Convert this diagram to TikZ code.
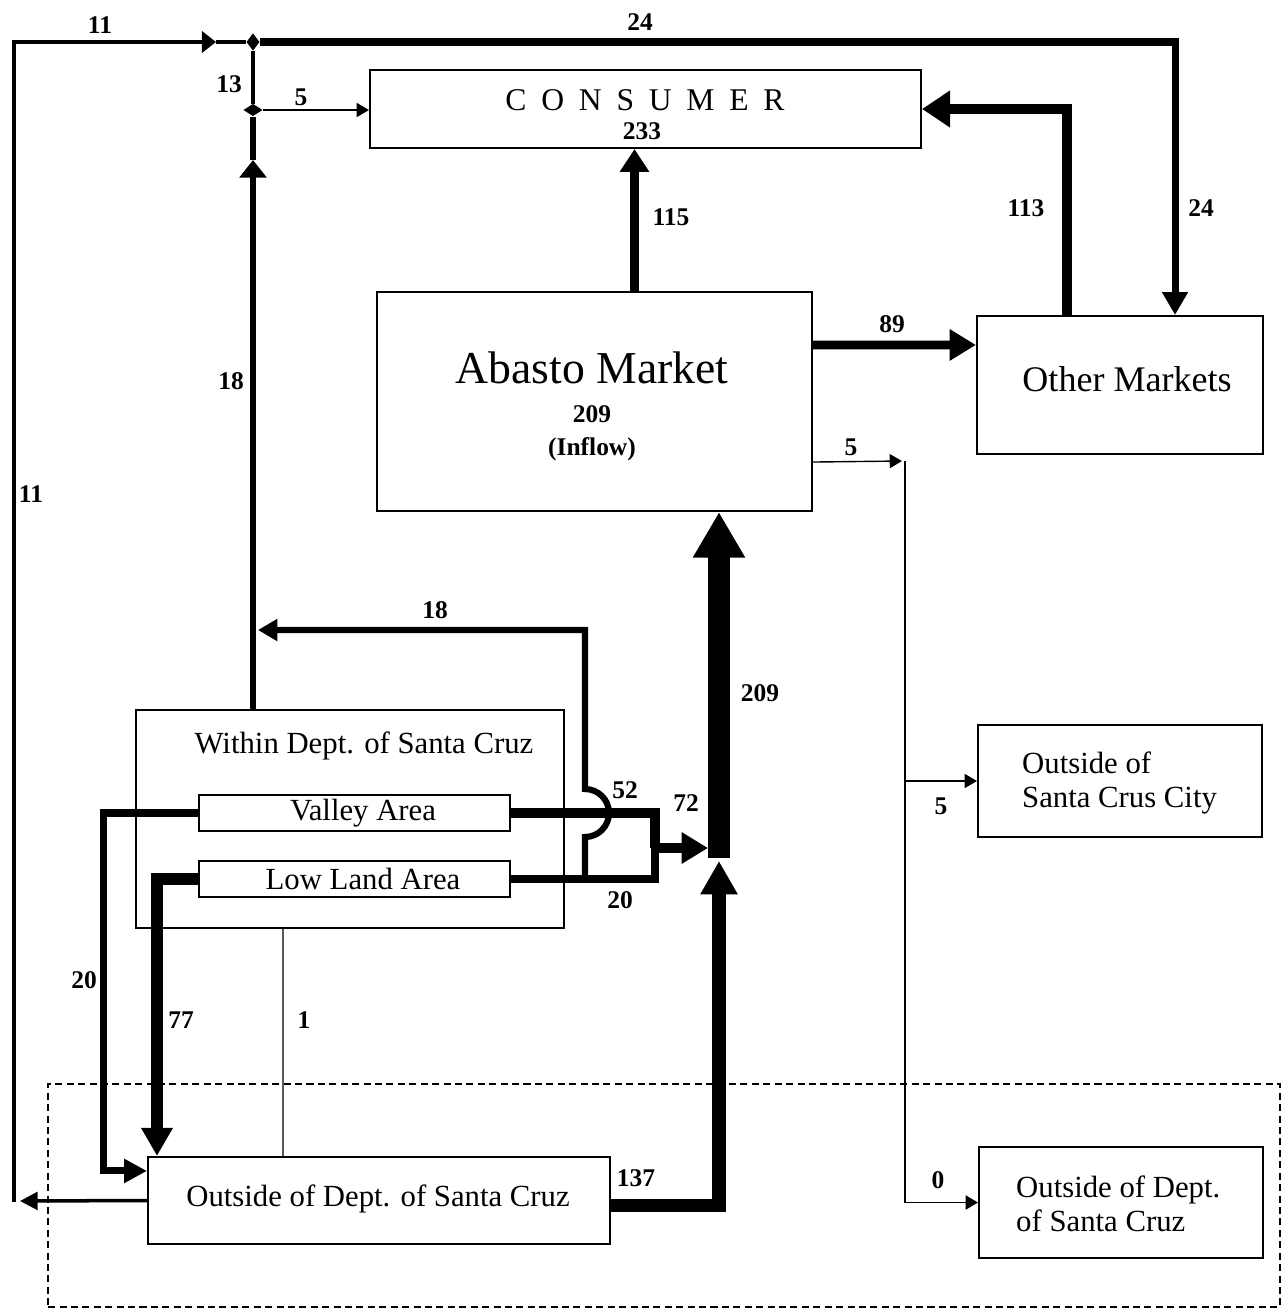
\documentclass[tikz,border=0pt]{standalone}
\usepackage{fontspec}
\setmainfont{Liberation Serif}
\usetikzlibrary{arrows.meta,calc,shapes.geometric}
\begin{document}
\begin{tikzpicture}[x=0.02cm, y=-0.02cm,
    every node/.style={font=\fontsize{17.5}{19}\selectfont},
    box/.style={draw, line width=1.2pt, inner sep=0pt},
    num/.style={font=\fontsize{14.5}{16}\selectfont\bfseries},
    junction/.style={diamond, fill, draw=none, inner sep=0pt},
    head/.style args={#1/#2}{-{Triangle[length=#1,width=#2]}},
    flow/.style={line width=#1}]
  \useasboundingbox (0,0) rectangle (1283,1312);

  % boxes
  \node[box, minimum width=11.02cm, minimum height=1.56cm] (consumer) at (645.5,109) {};
  \node[box, minimum width=8.70cm, minimum height=4.38cm] (abasto) at (594.5,401.5) {};
  \node[box, minimum width=5.72cm, minimum height=2.76cm] (other) at (1120,385) {};
  \node[box, minimum width=5.68cm, minimum height=2.24cm] (city) at (1120,781) {};
  \node[box, minimum width=5.68cm, minimum height=2.22cm] (outright) at (1121,1202.5) {};
  \node[box, minimum width=8.56cm, minimum height=4.36cm] (within) at (350,819) {};
  \node[box, minimum width=6.22cm, minimum height=0.72cm] (valley) at (354.5,813) {};
  \node[box, minimum width=6.22cm, minimum height=0.72cm] (lowland) at (354.5,879) {};
  \node[box, minimum width=9.24cm, minimum height=1.74cm] (outleft) at (379,1200.5) {};
  \node[draw, line width=1.3pt, dash pattern=on 4pt off 2.5pt, inner sep=0pt,
        minimum width=24.64cm, minimum height=4.46cm] (region) at (664,1195.5) {};

  % texts
  \node (consumertxt) at (645,100) {\fontsize{18}{20}\selectfont C\hspace{8.4pt}O\hspace{8.4pt}N\hspace{8.4pt}S\hspace{8.4pt}U\hspace{8.4pt}M\hspace{8.4pt}E\hspace{8.4pt}R};
  \node[num] (consumernum) at (642,131) {233};
  \node (abastotxt) at (592,368) {\fontsize{26}{28}\selectfont Abasto Market};
  \node[num] (abastonum) at (592,414) {209};
  \node[num] (abastoin) at (592,449) {(Inflow)};
  \node (othertxt) at (1127,379) {\fontsize{20.5}{22}\selectfont Other Markets};
  \node[align=left, anchor=west] (citytxt) at (1016,783) {Outside of\\Santa Crus City};
  \node[align=left, anchor=west] (outrighttxt) at (1010,1204) {Outside of Dept.\\of Santa Cruz};
  \node (withintxt) at (364,746) {Within Dept. of Santa Cruz};
  \node (valleytxt) at (363,813) {Valley Area};
  \node (lowlandtxt) at (363,879) {Low Land Area};
  \node (outlefttxt) at (378,1199) {Outside of Dept. of Santa Cruz};

  % junctions on the left column
  \node[junction, minimum width=7.5pt, minimum height=10pt] (jt) at (253,42) {};
  \node[junction, minimum width=11pt, minimum height=7pt] (jm) at (253,110) {};

  % 11 round the left side
  \coordinate (lb) at (14,1201);
  \coordinate (lt) at (14,42);
  \coordinate (ma) at (216,42);
  \draw[flow=2pt, head=10pt/10pt] (outleft.west) -- ($(lb)+(6,0)$);
  \draw[flow=2.8pt, head=8pt/12pt] ($(lb)+(0,1)$) -- (lt) -- (ma);
  \draw[flow=2.8pt] (ma) -- (jt);

  % 24 along the top
  \draw[flow=4pt, head=13pt/14pt] (jt) -| ($(other.north east)+(-89,0)$);

  % 18 and 13 up the column, 5 to the consumer
  \coordinate (mb) at (253,160);
  \draw[flow=3.2pt, head=10pt/15pt] (within.north -| jt) -- (mb);
  \draw[flow=3.2pt] (mb) -- (jm);
  \draw[flow=2.5pt] (jm) -- (jt);
  \draw[flow=0.8pt, head=7pt/8pt] (jm) -- (jm -| consumer.west);

  % abasto market outflows
  \draw[flow=5.5pt, head=13pt/16pt] ($(abasto.north)+(40,0)$) -- ($(consumer.south)+(-11,0)$);
  \draw[flow=5pt, head=15pt/17pt] ($(abasto.north east)+(0,54)$) -- ($(other.north west)+(0,30)$);
  \draw[flow=6pt, head=16pt/20pt] ($(other.north west)+(91,0)$) |- (consumer.east);

  % 209 inflow and 137 from outside
  \coordinate (hub) at (719,858);
  \draw[flow=12.5pt, head=26pt/28pt] (hub) -- (hub |- abasto.south);
  \draw[flow=7.5pt, head=19pt/20pt] ($(outleft.east)+(0,5)$) -| ($(hub)+(0,3)$);

  % valley and low land to the market
  \coordinate (jr) at (655,848);
  \draw[flow=5.5pt] (valley.east) -| (jr);
  \draw[flow=4.5pt] (lowland.east) -| (valley.east -| jr);
  \draw[flow=6pt, head=15pt/17pt] (jr) -- ($(hub |- jr)+(-11,0)$);

  % 18 back to the column, hopping over the valley line
  \coordinate (c18) at (585,630);
  \draw[flow=3.5pt, head=11pt/12pt] (lowland.east -| c18) -- ($(valley.east -| c18)+(0,24)$)
    arc[start angle=-90, end angle=90, radius=0.48cm] -- (c18) -- ($(c18 -| jt)+(5,0)$);

  % valley and low land to the outside
  \draw[flow=4pt, head=13pt/13pt] (valley.west) -- ++(-94,0) |- ($(outleft.north west)+(0,15)$);
  \draw[flow=6.5pt, head=16pt/17pt] (lowland.west) -| ($(outleft.north west)+(10,0)$);
  \draw[flow=0.8pt] ($(within.south west)+(148,0)$) -- ($(outleft.north west)+(136,0)$);

  % thin 5s to the right
  \coordinate (sp) at (905,461);
  \draw[flow=0.8pt, head=7pt/8pt] ($(abasto.south east)+(0,-50)$) -- ($(sp)+(-3,0)$);
  \draw[flow=1pt, head=7pt/8pt] (sp) |- (outright.west);
  \draw[flow=0.8pt, head=7pt/8pt] (sp |- city.west) -- (city.west);

  % flow numbers
  \node[num] (n11t) at (100,25) {11};
  \node[num] (n24t) at (640,22) {24};
  \node[num] (n13) at (229,84) {13};
  \node[num] (n5c) at (301,97) {5};
  \node[num] (n115) at (671,217) {115};
  \node[num] (n113) at (1026,208) {113};
  \node[num] (n24r) at (1201,208) {24};
  \node[num] (n89) at (892,324) {89};
  \node[num] (n18l) at (231,381) {18};
  \node[num] (n11l) at (31,494) {11};
  \node[num] (n5a) at (851,447) {5};
  \node[num] (n18b) at (435,610) {18};
  \node[num] (n209) at (760,693) {209};
  \node[num] (n52) at (625,790) {52};
  \node[num] (n72) at (686,803) {72};
  \node[num] (n20r) at (620,900) {20};
  \node[num] (n5city) at (941,806) {5};
  \node[num] (n20l) at (84,980) {20};
  \node[num] (n77) at (181,1020) {77};
  \node[num] (n1) at (304,1020) {1};
  \node[num] (n137) at (636,1178) {137};
  \node[num] (n0) at (938,1180) {0};
\end{tikzpicture}
\end{document}
